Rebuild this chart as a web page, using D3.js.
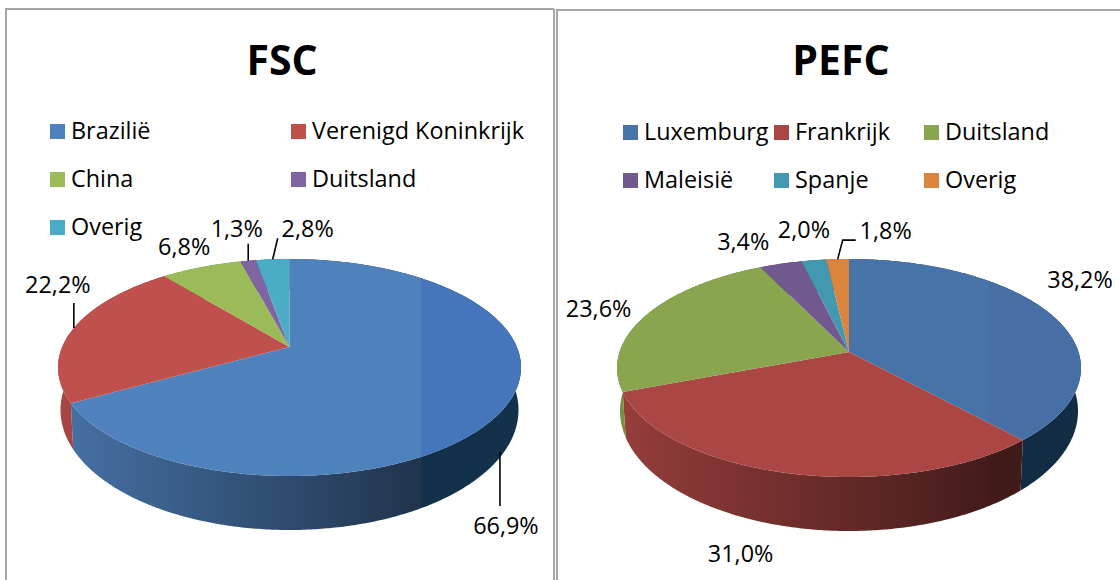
<!DOCTYPE html>
<html><head><meta charset="utf-8">
<script src="https://cdn.jsdelivr.net/npm/d3@7"></script>
<style>html,body{margin:0;padding:0;background:#fff}svg{display:block}text{font-family:"Open Sans",sans-serif;fill:#000}</style>
</head><body><svg id="c" width="1120" height="580"></svg>
<script>
// ---- data ----
const fscCategories = ["Brazilië","Verenigd Koninkrijk","China","Duitsland","Overig"];
const fscValues = [66.9,22.2,6.8,1.3,2.8];
const pefcCategories = ["Luxemburg","Frankrijk","Duitsland","Maleisië","Spanje","Overig"];
const pefcValues = [38.2,31.0,23.6,3.4,2.0,1.8];

// ---- styles & layout ----
const fscColors = ["#4F81BD","#C0504D","#9BBB59","#8064A2","#4BACC6"];
const pefcColors = ["#4674A9","#AA4643","#89A54E","#71588F","#4198AF","#DB843D"];
const panels = [
 {id:"fsc",title:"FSC",titleX:282,cats:fscCategories,vals:fscValues,colors:fscColors,
  frame:{x:6,y:9,w:548},
  top:{cx:289.5,cy:367.5,rx:231.5,ry:108.5,p:0.189},
  bottom:{cx:289.5,cy:410,rx:229,ry:120,p:0.189},
  jump:0.784, topRight:"#4576BB",
  legendX:[50,291,50,291,50], legendY:[124,172,220],legendRow:[0,0,1,1,2],
  labels:[
   {from:"bottom",dx:2,dy:82,lead:[[-4,0],[-4,54]]},
   {from:"top",dx:-16,dy:-35,lead:[[0,0],[0,-25]]},
   {from:"top",dx:-17,dy:-12,lead:null},
   {from:"top",dx:-11.5,dy:-24,lead:[[0,0],[0,-17]]},
   {from:"top",dx:35,dy:-22,lead:[[0,0],[5,-21]]}
  ]},
 {id:"pefc",title:"PEFC",titleX:841,cats:pefcCategories,vals:pefcValues,colors:pefcColors,
  frame:{x:557,y:10,w:580},
  top:{cx:849,cy:368,rx:232,ry:109,p:0.147},
  bottom:{cx:849,cy:411,rx:229,ry:120,p:0.147},
  jump:0.80, topRight:"#466FA5",
  legendX:[623,774,924,623,774,924], legendY:[125,173],legendRow:[0,0,0,1,1,1],
  labels:[
   {from:"top",dx:28,dy:-27,lead:null},
   {from:"bottom",dx:-47.5,dy:35,lead:null},
   {from:"top",dx:-48,dy:2.5,lead:null},
   {from:"top",dx:-37.5,dy:-14,lead:null},
   {from:"top",dx:-10,dy:-22,lead:null},
   {from:"top",dx:48,dy:-20,lead:[[0,0],[5,-19],[18,-19]]}
  ]}
];
const fmt = v => d3.format(".1f")(v).replace(".",",")+"%";

// perspective projection of the pie's circle onto the screen
function projector(e){
  const k=e.rx*Math.sqrt(1-e.p*e.p), s=e.ry*(1-e.p*e.p), ay=e.cy-e.ry*e.p;
  return a=>{
    const u=Math.sin(a), v=-Math.cos(a), d=1-e.p*v;
    return [e.cx+k*u/d, ay+s*v/d];
  };
}
const svg=d3.select("#c"), defs=svg.append("defs");
const line=d3.line();
function arcPts(f,a0,a1){
  const n=Math.max(2,Math.ceil((a1-a0)/0.01));
  return d3.range(n+1).map(i=>f(a0+(a1-a0)*i/n));
}

panels.forEach(P=>{
  const g=svg.append("g");
  const F=P.frame;
  g.append("path").attr("d",line([[F.x,580],[F.x,F.y],[F.x+F.w,F.y]]))
    .attr("fill","none").attr("stroke","#a6a6a6").attr("stroke-width",2);
  if(P.id==="fsc") g.append("path").attr("d",line([[F.x+F.w,F.y],[F.x+F.w,580]]))
    .attr("fill","none").attr("stroke","#a6a6a6").attr("stroke-width",2);

  g.append("text").attr("x",P.titleX).attr("y",75).attr("text-anchor","middle")
    .attr("font-size",41).attr("font-weight",700).text(P.title);

  // legend
  const lg=g.selectAll("g.l").data(P.cats).join("g").attr("class","l");
  lg.append("rect").attr("x",(d,i)=>P.legendX[i]).attr("y",(d,i)=>P.legendY[P.legendRow[i]])
    .attr("width",15).attr("height",15).attr("fill",(d,i)=>P.colors[i]);
  lg.append("text").attr("x",(d,i)=>P.legendX[i]+21).attr("y",(d,i)=>P.legendY[P.legendRow[i]]+15)
    .attr("font-size",23.4).text(d=>d);

  // pie angles
  const arcs=d3.pie().sort(null)(P.vals);
  const T=projector(P.top), B=projector(P.bottom);
  const x0=P.top.cx-P.top.rx, x1=P.top.cx+P.top.rx;

  // gradients
  P.colors.forEach((c,i)=>{
    const b=d3.rgb(c);
    const sc=f=>d3.rgb(b.r*f,b.g*f,b.b*f).formatHex();
    const dark=b.b>b.r ? d3.rgb(b.r*0.25,b.g*0.38,b.b*0.40).formatHex() : sc(0.38);
    const grad=defs.append("linearGradient").attr("id",`w-${P.id}-${i}`)
      .attr("gradientUnits","userSpaceOnUse").attr("x1",x0).attr("x2",x1).attr("y1",0).attr("y2",0);
    [[0,sc(0.88)],[P.jump,sc(0.40)],[P.jump,dark],[1,dark]].forEach(s=>
      grad.append("stop").attr("offset",s[0]).attr("stop-color",s[1]));
    const gt=defs.append("linearGradient").attr("id",`t-${P.id}-${i}`)
      .attr("gradientUnits","userSpaceOnUse").attr("x1",x0).attr("x2",x1).attr("y1",0).attr("y2",0);
    const rightC=i===0?P.topRight:c;
    [[0,c],[P.jump,c],[P.jump,rightC],[1,rightC]].forEach(s=>
      gt.append("stop").attr("offset",s[0]).attr("stop-color",s[1]));
  });

  // walls
  g.selectAll("path.wall").data(arcs).join("path").attr("class","wall")
    .attr("fill",(d,i)=>`url(#w-${P.id}-${i})`)
    .attr("d",d=>line(arcPts(T,d.startAngle,d.endAngle).concat(arcPts(B,d.startAngle,d.endAngle).reverse()))+"Z");

  // top faces
  const apex=[P.top.cx,P.top.cy-P.top.ry*P.top.p];
  g.selectAll("path.top").data(arcs).join("path").attr("class","top")
    .attr("fill",(d,i)=>`url(#t-${P.id}-${i})`)
    .attr("d",d=>line([apex].concat(arcPts(T,d.startAngle,d.endAngle)))+"Z");

  // labels & leaders
  arcs.forEach((d,i)=>{
    const L=P.labels[i], mid=(d.startAngle+d.endAngle)/2;
    const A=(L.from==="bottom"?B:T)(mid);
    if(L.lead) g.append("path").attr("d",line(L.lead.map(o=>[A[0]+o[0],A[1]+o[1]])))
      .attr("fill","none").attr("stroke","#000").attr("stroke-width",1.6);
    g.append("text").attr("x",A[0]+L.dx).attr("y",A[1]+L.dy).attr("text-anchor","middle")
      .attr("font-size",23.4).text(fmt(d.data));
  });
});
</script></body></html>
